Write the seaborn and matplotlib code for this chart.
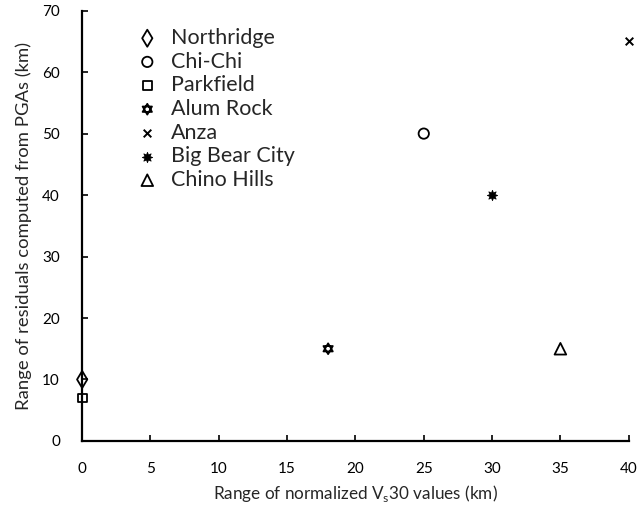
import numpy as np
import pandas as pd
import matplotlib
matplotlib.use("Agg")
import matplotlib.pyplot as plt
from matplotlib.path import Path
import seaborn as sns

events = ["Northridge", "Chi-Chi", "Parkfield", "Alum Rock", "Anza", "Big Bear City", "Chino Hills"]
vs30_range = [0, 25, 0, 18, 40, 30, 35]
pga_resid_range = [10, 50, 7, 15, 65, 40, 15]
x_ticks = [0, 5, 10, 15, 20, 25, 30, 35, 40]
y_ticks = [0, 10, 20, 30, 40, 50, 60, 70]

df = pd.DataFrame({"event": events, "x": vs30_range, "y": pga_resid_range})

sns.set_style("ticks")
plt.rcParams['font.family'] = ['Lato', 'DejaVu Sans']
plt.rcParams['mathtext.fontset'] = 'custom'
plt.rcParams['mathtext.rm'] = 'Lato'

# hexagram (two overlapping triangles)
up = [(np.cos(np.pi/2 + k*2*np.pi/3), np.sin(np.pi/2 + k*2*np.pi/3)) for k in range(3)]
dn = [(np.cos(-np.pi/2 + k*2*np.pi/3), np.sin(-np.pi/2 + k*2*np.pi/3)) for k in range(3)]
verts = up + [up[0]] + dn + [dn[0]]
codes = [Path.MOVETO, Path.LINETO, Path.LINETO, Path.CLOSEPOLY] * 2
hexagram = Path(verts, codes)

markers = {
    "Northridge": "d",
    "Chi-Chi": "o",
    "Parkfield": "s",
    "Alum Rock": hexagram,
    "Anza": "x",
    "Big Bear City": (8, 1, 0),
    "Chino Hills": "^",
}
sizes = {"Northridge": 75, "Chi-Chi": 55, "Parkfield": 40, "Alum Rock": 60,
         "Anza": 30, "Big Bear City": 55, "Chino Hills": 70}

fig = plt.figure(figsize=(6.37, 5.08), dpi=100)
ax = fig.add_axes([0.129, 0.132, 0.858, 0.847])

filled = {"Anza", "Big Bear City"}
for ev in events:
    sub = df[df.event == ev]
    m = markers[ev]
    if ev in filled:
        sns.scatterplot(data=sub, x="x", y="y", marker=m, s=sizes[ev], color="black",
                        linewidth=1.4 if ev == "Anza" else 0.6, edgecolor="black",
                        label=ev, ax=ax, zorder=3, clip_on=False)
    else:
        sns.scatterplot(data=sub, x="x", y="y", marker=m, s=sizes[ev], facecolor="none",
                        edgecolor="black", linewidth=1.3, label=ev, ax=ax, zorder=3,
                        clip_on=False)

ax.set_xlim(0, 40)
ax.set_ylim(0, 70)
ax.set_xticks(x_ticks)
ax.set_yticks(y_ticks)
ax.tick_params(direction="in", length=4, width=1.2, labelsize=11, colors="black")
ax.tick_params(axis="x", pad=15)
ax.tick_params(axis="y", pad=16)
for s in ["left", "bottom"]:
    ax.spines[s].set_linewidth(1.6)
    ax.spines[s].set_color("black")
sns.despine(ax=ax)
for lab in ax.get_xticklabels() + ax.get_yticklabels():
    lab.set_clip_on(False)

ax.set_xlabel(r"Range of normalized V$_\mathregular{s}$30 values (km)", fontsize=12.3, labelpad=5)
ax.set_ylabel("Range of residuals computed from PGAs (km)", fontsize=13.3, labelpad=7)

leg = ax.legend(loc="upper left", bbox_to_anchor=(0.064, 0.98), frameon=False, fontsize=15.5,
                handletextpad=0.1, labelspacing=0.17, borderaxespad=0.0)

fig.savefig("out.png", dpi=100)
